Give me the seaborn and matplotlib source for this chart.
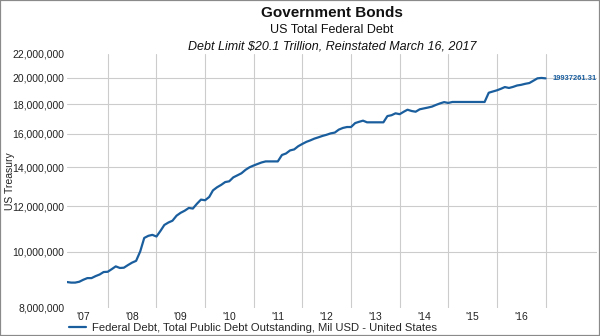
import matplotlib
matplotlib.use("Agg")
import matplotlib.pyplot as plt
import matplotlib.ticker as mticker
import matplotlib.dates as mdates
from matplotlib.patches import Rectangle
import pandas as pd
import seaborn as sns

# ---------------- data ----------------
first_month = "2007-03-01"
last_month = "2017-01-01"

debt_mil_usd = [
    # 2007 (Mar-Dec)
    8.87e6, 8.85e6, 8.85e6, 8.88e6, 8.95e6, 9.01e6, 9.01e6, 9.08e6, 9.14e6, 9.23e6,
    # 2008
    9.24e6, 9.34e6, 9.44e6, 9.38e6, 9.39e6, 9.49e6, 9.58e6, 9.65e6, 10.02e6, 10.57e6, 10.66e6, 10.70e6,
    # 2009
    10.63e6, 10.88e6, 11.13e6, 11.24e6, 11.32e6, 11.55e6, 11.68e6, 11.78e6, 11.91e6, 11.88e6, 12.11e6, 12.31e6,
    # 2010
    12.28e6, 12.44e6, 12.77e6, 12.93e6, 13.05e6, 13.20e6, 13.24e6, 13.45e6, 13.56e6, 13.67e6, 13.86e6, 14.00e6,
    # 2011
    14.10e6, 14.19e6, 14.27e6, 14.33e6, 14.33e6, 14.33e6, 14.33e6, 14.70e6, 14.79e6, 14.97e6, 15.03e6, 15.22e6,
    # 2012
    15.36e6, 15.49e6, 15.58e6, 15.69e6, 15.77e6, 15.86e6, 15.93e6, 16.02e6, 16.07e6, 16.26e6, 16.37e6, 16.43e6,
    # 2013
    16.43e6, 16.69e6, 16.77e6, 16.85e6, 16.74e6, 16.74e6, 16.74e6, 16.74e6, 16.74e6, 17.16e6, 17.22e6, 17.35e6,
    # 2014
    17.29e6, 17.46e6, 17.60e6, 17.51e6, 17.46e6, 17.63e6, 17.69e6, 17.75e6, 17.82e6, 17.94e6, 18.05e6, 18.14e6,
    # 2015
    18.08e6, 18.15e6, 18.15e6, 18.15e6, 18.15e6, 18.15e6, 18.15e6, 18.15e6, 18.15e6, 18.15e6, 18.83e6, 18.92e6,
    # 2016
    19.01e6, 19.13e6, 19.26e6, 19.19e6, 19.27e6, 19.38e6, 19.43e6, 19.51e6, 19.57e6, 19.75e6, 19.94e6, 19.97e6,
    # 2017 (Jan)
    19937261.31,
]

y_ticks = [8e6, 10e6, 12e6, 14e6, 16e6, 18e6, 20e6, 22e6]
year_labels = ["'07", "'08", "'09", "'10", "'11", "'12", "'13", "'14", "'15", "'16"]
label_years = [2007, 2008, 2009, 2010, 2011, 2012, 2013, 2014, 2015, 2016]
grid_years = [2008, 2009, 2010, 2011, 2012, 2013, 2014, 2015, 2016, 2017]

series_name = "Federal Debt, Total Public Debt Outstanding, Mil USD - United States"
last_value_label = "19937261.31"
title = "Government Bonds"
subtitle = "US Total Federal Debt"
subtitle2 = "Debt Limit $20.1 Trillion, Reinstated March 16, 2017"
y_label = "US Treasury"

line_color = "#1a5e9e"
grid_color = "#cccccc"

# ---------------- plot ----------------
sns.set_theme(style="white")
plt.rcParams["font.family"] = ["Liberation Sans", "DejaVu Sans"]

dates = pd.date_range(first_month, last_month, freq="MS")
df = pd.DataFrame({"date": dates, "debt": debt_mil_usd})

W, H = 600, 336
fig = plt.figure(figsize=(W / 100, H / 100), dpi=100)
left, right, top, bottom = 67, 597, 53.6, 308
ax = fig.add_axes([left / W, 1 - bottom / H, (right - left) / W, (bottom - top) / H])

sns.lineplot(data=df, x="date", y="debt", ax=ax, color=line_color, linewidth=1.6,
             label=series_name, legend=False)

ax.set_yscale("log")
ax.set_ylim(8e6, 22e6)
ax.set_xlim(pd.Timestamp("2007-03-01"), pd.Timestamp("2018-01-22"))

# y ticks
ax.yaxis.set_major_locator(mticker.FixedLocator(y_ticks))
ax.yaxis.set_minor_locator(mticker.NullLocator())
ax.yaxis.set_major_formatter(mticker.FuncFormatter(lambda v, p: f"{int(round(v)):,}"))

# x ticks: labels at mid-year, gridlines at year boundaries
ax.xaxis.set_major_locator(mticker.FixedLocator(
    [mdates.date2num(pd.Timestamp(f"{y}-07-01")) for y in label_years]))
ax.xaxis.set_major_formatter(mticker.FixedFormatter(year_labels))
ax.xaxis.set_minor_locator(mticker.FixedLocator(
    [mdates.date2num(pd.Timestamp(f"{y}-01-01")) for y in grid_years]))

ax.tick_params(axis="both", which="both", length=0, labelsize=7.5, colors="#222222")
ax.tick_params(axis="y", pad=2)
ax.tick_params(axis="x", pad=3)

ax.grid(False)
ax.xaxis.grid(True, which="minor", color=grid_color, linewidth=0.8)
ax.yaxis.grid(True, which="major", color=grid_color, linewidth=0.8)
ygl = ax.get_ygridlines()
ygl[0].set_visible(False)
ygl[-1].set_visible(False)
ax.set_axisbelow(True)

for s in ax.spines.values():
    s.set_visible(False)
ax.set_xlabel("")
ax.set_ylabel("")

# last value label
ax.annotate(last_value_label, xy=(df["date"].iloc[-1], df["debt"].iloc[-1]),
            xytext=(5, 0), textcoords="offset points", va="center", ha="left",
            fontsize=5.4, fontweight="bold", color=line_color,
            annotation_clip=False)

# titles (centered over plot area)
cx = (left + right) / 2 / W
fig.text(cx, 1 - 13 / H, title, ha="center", va="center", fontsize=11, fontweight="bold", color="#111111")
fig.text(cx, 1 - 30 / H, subtitle, ha="center", va="center", fontsize=9, color="#111111")
fig.text(cx, 1 - 46.5 / H, subtitle2, ha="center", va="center", fontsize=9, style="italic", color="#111111")

fig.text(10 / W, 1 - 181 / H, y_label, rotation=90, ha="center", va="center", fontsize=7.5, color="#222222")

# legend
handles, labels = ax.get_legend_handles_labels()
fig.legend(handles, labels, loc="center left", bbox_to_anchor=(69 / W, 1 - 328 / H),
           frameon=False, fontsize=8.1, handlelength=1.5, handletextpad=0.55,
           borderpad=0, borderaxespad=0)

# outer frame
fig.patches.append(Rectangle((0, 0), 1, 1, transform=fig.transFigure, fill=False,
                             edgecolor="#8a8a8a", linewidth=1.6))

fig.savefig("out.png", dpi=100)
